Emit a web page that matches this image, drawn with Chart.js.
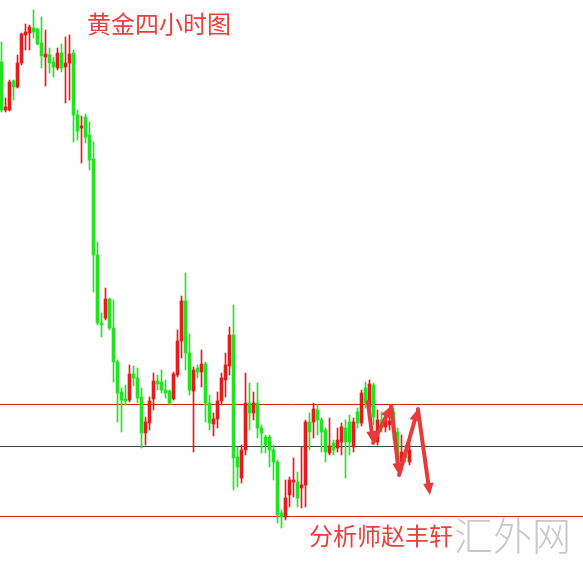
<!DOCTYPE html>
<html>
<head>
<meta charset="utf-8">
<script src="https://cdn.jsdelivr.net/npm/chart.js@4/dist/chart.umd.min.js"></script>
<style>
  html, body { margin: 0; padding: 0; background: #fff; }
  #wrap { width: 583px; height: 564px; position: relative; }
</style>
</head>
<body>
<div id="wrap"><canvas id="myChart"></canvas></div>
<script>
// 4h gold candles, oldest first
const opens = [1373.8, 1369.0, 1369.0, 1371.9, 1371.3, 1373.7, 1376.5, 1376.7, 1377.2, 1377.1,
  1375.7, 1374.3, 1374.5, 1373.8, 1373.2, 1374.7, 1373.3, 1373.7, 1374.7, 1368.5,
  1367.2, 1368.3, 1366.5, 1364.1, 1354.5, 1347.7, 1348.2, 1350.1, 1347.2, 1343.8,
  1340.8, 1340.1, 1340.0, 1342.6, 1342.2, 1340.3, 1336.7, 1337.7, 1340.1, 1341.9,
  1341.8, 1341.0, 1340.9, 1340.1, 1342.5, 1345.9, 1349.9, 1344.7, 1340.9, 1343.2,
  1342.8, 1343.6, 1339.7, 1337.6, 1338.1, 1339.9, 1342.0, 1343.4, 1346.5, 1334.3,
  1332.2, 1335.0, 1339.7, 1338.7, 1339.7, 1337.2, 1336.3, 1336.3, 1335.0, 1333.8,
  1328.7, 1328.3, 1330.5, 1331.8, 1331.8, 1331.2, 1331.5, 1337.8, 1337.8, 1339.0,
  1338.0, 1337.0, 1334.7, 1335.7, 1335.2, 1335.8, 1337.2, 1337.8, 1335.3, 1338.8,
  1337.7, 1341.2, 1339.3, 1341.5, 1335.8, 1338.0, 1337.3, 1337.5, 1338.8, 1336.8,
  1333.8, 1335.0, 1333.8];
const highs = [1375.8, 1370.2, 1372.0, 1372.0, 1374.5, 1376.7, 1377.6, 1377.5, 1379.0, 1377.2,
  1378.3, 1377.0, 1375.2, 1374.3, 1375.2, 1375.6, 1376.3, 1376.5, 1375.0, 1369.0,
  1368.4, 1368.6, 1367.8, 1365.8, 1355.8, 1348.7, 1351.2, 1350.2, 1350.0, 1344.0,
  1341.2, 1341.5, 1343.5, 1343.4, 1343.2, 1341.2, 1338.3, 1340.3, 1342.7, 1342.5,
  1343.0, 1342.0, 1341.0, 1342.8, 1347.0, 1350.4, 1352.7, 1346.6, 1343.3, 1343.5,
  1345.0, 1343.8, 1340.5, 1338.7, 1340.8, 1342.7, 1344.7, 1347.3, 1349.5, 1335.3,
  1335.5, 1342.7, 1341.7, 1340.8, 1341.7, 1337.5, 1336.5, 1336.5, 1335.5, 1334.0,
  1329.0, 1332.0, 1332.3, 1334.2, 1332.8, 1335.3, 1338.0, 1338.7, 1339.7, 1339.5,
  1338.2, 1337.2, 1338.2, 1336.0, 1337.2, 1337.7, 1338.0, 1338.5, 1338.2, 1339.2,
  1341.0, 1341.8, 1342.0, 1341.7, 1339.0, 1338.8, 1338.5, 1338.4, 1339.2, 1337.2,
  1336.5, 1335.5, 1335.8];
const lows = [1368.8, 1368.8, 1368.9, 1370.0, 1371.2, 1373.5, 1375.0, 1375.0, 1376.2, 1375.5,
  1373.2, 1371.4, 1372.7, 1372.3, 1373.0, 1372.8, 1369.7, 1370.0, 1365.8, 1366.0,
  1363.7, 1365.7, 1363.0, 1350.8, 1347.5, 1346.3, 1348.0, 1347.0, 1341.8, 1337.8,
  1336.8, 1339.5, 1339.8, 1341.4, 1339.7, 1335.2, 1335.5, 1337.0, 1339.0, 1341.0,
  1340.7, 1340.2, 1339.5, 1340.0, 1342.3, 1344.2, 1343.0, 1340.5, 1334.8, 1342.2,
  1341.3, 1337.8, 1337.0, 1336.4, 1337.2, 1339.5, 1340.3, 1342.5, 1331.0, 1331.3,
  1331.7, 1334.5, 1337.0, 1338.0, 1336.2, 1334.7, 1334.7, 1333.3, 1332.0, 1327.7,
  1327.2, 1328.0, 1329.3, 1330.3, 1329.3, 1329.2, 1329.3, 1335.0, 1336.2, 1336.5,
  1334.8, 1333.8, 1334.5, 1334.5, 1334.8, 1334.5, 1332.2, 1334.5, 1334.8, 1337.2,
  1337.4, 1339.2, 1339.0, 1337.5, 1335.5, 1336.8, 1336.8, 1337.0, 1336.0, 1333.2,
  1333.0, 1333.8, 1333.5];
const closes = [1369.0, 1369.3, 1371.8, 1371.3, 1373.7, 1376.6, 1376.8, 1377.3, 1376.8, 1375.6,
  1374.4, 1374.6, 1373.7, 1373.3, 1374.7, 1373.2, 1373.7, 1374.6, 1368.5, 1366.9,
  1367.4, 1366.3, 1364.0, 1354.5, 1347.7, 1347.5, 1350.1, 1347.2, 1343.8, 1340.7,
  1340.0, 1339.9, 1342.6, 1342.2, 1340.2, 1336.7, 1337.8, 1339.9, 1341.9, 1341.6,
  1341.0, 1340.7, 1339.7, 1342.6, 1345.9, 1349.9, 1344.7, 1341.0, 1343.0, 1342.8,
  1343.6, 1339.7, 1337.7, 1338.1, 1339.9, 1342.2, 1343.5, 1346.5, 1334.2, 1333.3,
  1335.0, 1339.7, 1338.7, 1339.7, 1337.2, 1336.7, 1335.5, 1335.0, 1333.8, 1328.5,
  1328.3, 1330.2, 1332.0, 1332.0, 1330.2, 1331.5, 1337.8, 1336.8, 1339.1, 1338.0,
  1336.8, 1334.8, 1335.4, 1335.0, 1336.0, 1337.3, 1335.8, 1335.8, 1337.8, 1337.7,
  1340.7, 1339.7, 1341.6, 1338.3, 1338.0, 1337.2, 1338.2, 1337.9, 1336.8, 1334.3,
  1334.8, 1334.2, 1335.0];

// support / resistance levels
const levels = [
  { price: 1339.55, color: "#d42222" },
  { price: 1335.35, color: "#2f4a40" },
  { price: 1328.35, color: "#d42222" },
];

// analyst's forecast path (bar index, price)
const arrowPath = [[91.6, 1339.8], [92.9, 1335.7], [97.4, 1339.4], [99.4, 1332.5], [104.1, 1339.1], [107.1, 1330.5]];

const UP = "#e21d1d";
const DOWN = "#22e222";
const colors = opens.map((o, i) => (closes[i] >= o ? UP : DOWN));

const xMin = -0.375;
const xMax = xMin + 583 / 4;

const overlay = {
  id: "overlay",
  afterDatasetsDraw(chart) {
    const { ctx, scales } = chart;
    const px = (p) => [scales.x.getPixelForValue(p[0]), scales.y.getPixelForValue(p[1])];

    ctx.save();
    ctx.strokeStyle = "#e83a3a";
    ctx.fillStyle = "#e83a3a";
    ctx.lineWidth = 4;
    ctx.lineCap = "round";
    for (let i = 1; i < arrowPath.length; i++) {
      const [x0, y0] = px(arrowPath[i - 1]);
      const [x1, y1] = px(arrowPath[i]);
      const a = Math.atan2(y1 - y0, x1 - x0);
      const head = 13;
      const bx = x1 - Math.cos(a) * head * 0.8;
      const by = y1 - Math.sin(a) * head * 0.8;
      ctx.beginPath();
      ctx.moveTo(x0, y0);
      ctx.lineTo(bx, by);
      ctx.stroke();
      ctx.beginPath();
      ctx.moveTo(x1, y1);
      ctx.lineTo(x1 - head * Math.cos(a - 0.42), y1 - head * Math.sin(a - 0.42));
      ctx.lineTo(x1 - head * Math.cos(a + 0.42), y1 - head * Math.sin(a + 0.42));
      ctx.closePath();
      ctx.fill();
    }

    ctx.textBaseline = "middle";
    ctx.textAlign = "left";
    ctx.fillStyle = "#e8413d";
    ctx.font = '24px "Noto Sans CJK SC", sans-serif';
    ctx.fillText("黄金四小时图", 87, 24);
    ctx.fillText("分析师赵丰轩", 309, 536);
    ctx.fillStyle = "#c8c8c8";
    ctx.font = '300 39px "Noto Sans CJK SC", sans-serif';
    ctx.fillText("汇外网", 454, 535);
    ctx.restore();
  },
};

const ctx = document.getElementById("myChart").getContext("2d");

const myChart = new Chart(ctx, {
  type: "bar",
  data: {
    datasets: [
      ...levels.map((lv) => ({
        type: "line",
        data: [{ x: xMin, y: lv.price }, { x: xMax, y: lv.price }],
        borderColor: lv.color,
        borderWidth: 1,
        pointRadius: 0,
        order: 3,
      })),
      {
        label: "wick",
        data: lows.map((l, i) => ({ x: i, y: [l, highs[i]] })),
        backgroundColor: colors,
        barThickness: 1,
        grouped: false,
        minBarLength: 1,
        order: 2,
      },
      {
        label: "body",
        data: opens.map((o, i) => ({ x: i, y: [o, closes[i]] })),
        backgroundColor: colors,
        barThickness: 3,
        grouped: false,
        minBarLength: 1,
        order: 1,
      },
    ],
  },
  options: {
    responsive: true,
    maintainAspectRatio: false,
    animation: false,
    layout: { padding: 0 },
    plugins: {
      legend: { display: false },
      tooltip: { enabled: false },
    },
    scales: {
      x: { type: "linear", min: xMin, max: xMax, offset: false, display: false },
      y: { min: 1323.6, max: 1380, display: false },
    },
  },
  plugins: [overlay],
});
</script>
</body>
</html>
